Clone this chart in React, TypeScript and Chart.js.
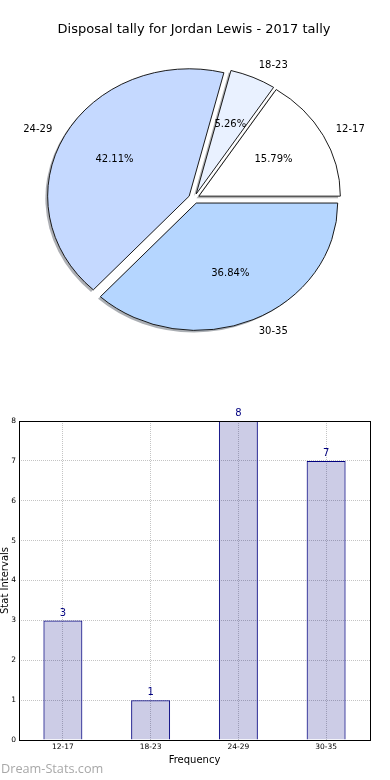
import React, { useEffect, useRef } from 'react';
import { Chart, registerables } from 'chart.js';

Chart.register(...registerables);

// ---------- data ----------
const TITLE = 'Disposal tally for Jordan Lewis - 2017 tally';
const categories = ['12-17', '18-23', '24-29', '30-35'];
const tallies = [3, 1, 8, 7];
const sliceColors = ['#ffffff', '#e9f1ff', '#c5d9ff', '#b5d6ff'];
const yTickValues = [0, 1, 2, 3, 4, 5, 6, 7, 8];
const X_TITLE = 'Frequency';
const Y_TITLE = 'Stat Intervals';
const WATERMARK = 'Dream-Stats.com';

// ---------- style ----------
const FONT = "'DejaVu Sans', sans-serif";
const EXPLODE = 5.5; // px, along each slice's bisector
const Y_SQUASH = 0.9; // pie is drawn slightly elliptical
const SHADOW = 2.3; // px shadow offset (left / down)
const PIE_RADIUS = 141.5;
const NAVY = '#000080';

function hexToRgb(hex: string) {
  const h = hex.replace('#', '');
  return [0, 2, 4].map((i) => parseInt(h.slice(i, i + 2), 16));
}

const piePlugin = {
  id: 'piePlugin',
  beforeDatasetDraw(chart: any, args: any) {
    const ctx = chart.ctx as CanvasRenderingContext2D;
    const arcs = args.meta.data as any[];
    if (!arcs.length) return false;
    const cx = arcs[0].x;
    const cy = arcs[0].y;
    const total = (chart.data.datasets[0].data as number[]).reduce((a, b) => a + b, 0);

    ctx.save();
    ctx.translate(cx, cy);
    ctx.scale(1, Y_SQUASH);
    ctx.translate(-cx, -cy);

    // shadows (beneath all wedges)
    arcs.forEach((el) => {
      const mid = (el.startAngle + el.endAngle) / 2;
      const ox = el.x + EXPLODE * Math.cos(mid) - SHADOW;
      const oy = el.y + EXPLODE * Math.sin(mid) + SHADOW;
      const [r, g, b] = hexToRgb(el.options.backgroundColor);
      ctx.beginPath();
      ctx.moveTo(ox, oy);
      ctx.arc(ox, oy, el.outerRadius, el.startAngle, el.endAngle);
      ctx.closePath();
      ctx.fillStyle = `rgba(${Math.round(0.3 * r)},${Math.round(0.3 * g)},${Math.round(0.3 * b)},0.42)`;
      ctx.fill();
    });

    // wedges, exploded
    arcs.forEach((el) => {
      const mid = (el.startAngle + el.endAngle) / 2;
      ctx.save();
      ctx.translate(EXPLODE * Math.cos(mid), EXPLODE * Math.sin(mid));
      el.draw(ctx);
      ctx.restore();
    });
    ctx.restore();

    // labels
    const labels = chart.data.labels as string[];
    const values = chart.data.datasets[0].data as number[];
    ctx.save();
    ctx.font = `10px ${FONT}`;
    ctx.fillStyle = '#000';
    ctx.textBaseline = 'middle';
    const toScreen = (px: number, py: number) => [px, cy + (py - cy) * Y_SQUASH];
    arcs.forEach((el, k) => {
      const mid = (el.startAngle + el.endAngle) / 2;
      const c = Math.cos(mid);
      const s = Math.sin(mid);
      const bx = el.x + EXPLODE * c;
      const by = el.y + EXPLODE * s;
      const R = el.outerRadius;
      const [px, py] = toScreen(bx + 0.6 * R * c, by + 0.6 * R * s);
      ctx.textAlign = 'center';
      ctx.fillText(((values[k] / total) * 100).toFixed(2) + '%', px, py);
      const [lx, ly] = toScreen(bx + 1.1 * R * c, by + 1.1 * R * s);
      ctx.textAlign = c > 0 ? 'left' : 'right';
      ctx.fillText(labels[k], lx, ly);
    });
    ctx.restore();
    return false;
  },
};

const barPlugin = {
  id: 'barPlugin',
  afterDatasetsDraw(chart: any) {
    const ctx = chart.ctx as CanvasRenderingContext2D;
    const { left, top, right, bottom } = chart.chartArea;
    ctx.save();
    ctx.strokeStyle = '#000';
    ctx.lineWidth = 1;
    ctx.strokeRect(left + 0.5, top + 0.5, right - left, bottom - top);
    const meta = chart.getDatasetMeta(0);
    const values = chart.data.datasets[0].data as number[];
    ctx.font = `10px ${FONT}`;
    ctx.fillStyle = NAVY;
    ctx.textAlign = 'center';
    ctx.textBaseline = 'alphabetic';
    meta.data.forEach((el: any, i: number) => {
      ctx.fillText(String(values[i]), el.x, el.y - 4.7);
    });
    ctx.restore();
  },
};

export default function App() {
  const pieRef = useRef<HTMLCanvasElement>(null);
  const barRef = useRef<HTMLCanvasElement>(null);

  useEffect(() => {
    const order = categories.map((_, i) => i).reverse();
    const pie = new Chart(pieRef.current!, {
      type: 'pie',
      data: {
        labels: order.map((i) => categories[i]),
        datasets: [
          {
            data: order.map((i) => tallies[i]),
            backgroundColor: order.map((i) => sliceColors[i]),
            borderColor: '#111',
            borderWidth: 1,
            borderJoinStyle: 'miter',
            radius: PIE_RADIUS,
            clip: false,
          } as any,
        ],
      },
      options: {
        animation: false,
        responsive: false,
        events: [],
        rotation: 90,
        layout: { padding: { left: 1, right: 3, top: 0, bottom: 20.6 } },
        plugins: {
          legend: { display: false },
          tooltip: { enabled: false },
          title: {
            display: true,
            text: TITLE,
            color: '#000',
            font: { family: FONT, size: 13, weight: 'normal', lineHeight: 1.2 },
            padding: { top: 22, bottom: 0 },
          },
        },
      } as any,
      plugins: [piePlugin],
    });

    const bar = new Chart(barRef.current!, {
      type: 'bar',
      data: {
        labels: categories,
        datasets: [
          {
            data: tallies,
            backgroundColor: 'rgba(0,0,128,0.2)',
            borderColor: NAVY,
            borderWidth: 1,
            categoryPercentage: 1,
            barPercentage: 0.444,
          },
        ],
      },
      options: {
        animation: false,
        responsive: false,
        events: [],
        layout: { padding: { left: 0, right: 20, top: 41, bottom: 0 } },
        plugins: { legend: { display: false }, tooltip: { enabled: false } },
        scales: {
          x: {
            offset: true,
            grid: { offset: false, color: '#c4c4c4', lineWidth: 1, drawTicks: false },
            border: { display: false, dash: [1, 1] },
            ticks: { color: '#000', font: { family: FONT, size: 7.5 }, padding: 3, maxRotation: 0 },
            title: {
              display: true,
              text: X_TITLE,
              color: '#000',
              font: { family: FONT, size: 10, lineHeight: 1 },
              padding: { top: 0, bottom: 15 },
            },
            afterFit: (s: any) => {
              s.height = 40;
            },
          },
          y: {
            min: yTickValues[0],
            max: yTickValues[yTickValues.length - 1],
            grid: { color: '#c4c4c4', lineWidth: 1, drawTicks: false },
            border: { display: false, dash: [1, 1] },
            afterBuildTicks: (s: any) => {
              s.ticks = yTickValues.map((v) => ({ value: v }));
            },
            ticks: { color: '#000', font: { family: FONT, size: 7.5 }, padding: 3 },
            title: {
              display: true,
              text: Y_TITLE,
              color: '#000',
              font: { family: FONT, size: 10, lineHeight: 1 },
              padding: { top: 0, bottom: 0 },
            },
            afterFit: (s: any) => {
              s.width = 19;
            },
          },
        },
      } as any,
      plugins: [barPlugin],
    });

    return () => {
      pie.destroy();
      bar.destroy();
    };
  }, []);

  return (
    <div
      style={{
        position: 'absolute',
        left: 0,
        top: 0,
        width: 390,
        height: 780,
        background: '#fff',
        overflow: 'hidden',
      }}
    >
      <canvas ref={pieRef} width={390} height={380} style={{ position: 'absolute', left: 0, top: 0 }} />
      <canvas ref={barRef} width={390} height={400} style={{ position: 'absolute', left: 0, top: 380 }} />
      <div
        style={{
          position: 'absolute',
          left: 1,
          top: 762,
          fontFamily: "'Open Sans', sans-serif",
          fontSize: 12.7,
          lineHeight: 1,
          color: '#a8a8a8',
          whiteSpace: 'nowrap',
        }}
      >
        {WATERMARK}
      </div>
    </div>
  );
}
